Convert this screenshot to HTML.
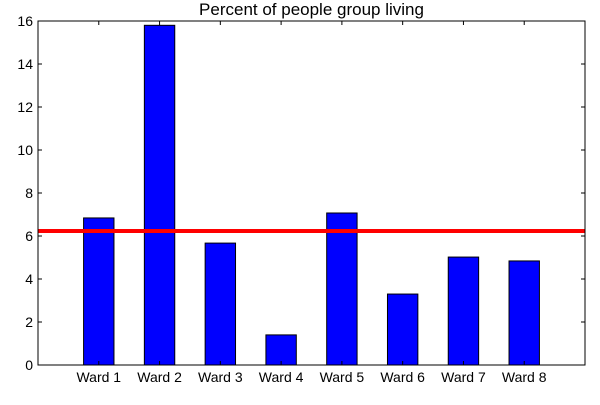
<!DOCTYPE html>
<html><head><meta charset="utf-8"><style>
body{margin:0;background:#fff;font-family:"Liberation Sans",sans-serif;}
svg text{font-family:"Liberation Sans",sans-serif;}
</style></head><body>
<svg id="chart" width="600" height="400"></svg>
<script>
const categories=["Ward 1","Ward 2","Ward 3","Ward 4","Ward 5","Ward 6","Ward 7","Ward 8"];
const values=[6.84,15.8,5.67,1.40,7.07,3.30,5.02,4.84];
const meanValue=6.23;
const yTicks=[0,2,4,6,8,10,12,14,16];
const titleText="Percent of people group living";

const NS="http://www.w3.org/2000/svg";
const svg=document.getElementById('chart');
const L=38,R=585,T=21,B=365;
const xs=i=>L+(i+1)/9*(R-L);
const ys=v=>B-v/16*(B-T);
function mk(tag,attrs,parent){const e=document.createElementNS(NS,tag);for(const k in attrs)e.setAttribute(k,attrs[k]);(parent||svg).appendChild(e);return e;}

const title=mk('text',{x:(L+R)/2,y:15,'text-anchor':'middle','font-size':17});
title.textContent=titleText;



const bw=0.5/9*(R-L);
values.forEach((v,i)=>{
  const r=mk('rect',{x:xs(i)-bw/2,y:ys(v),width:bw,height:B-ys(v),fill:'#0000ff',stroke:'#000','stroke-width':1});
  
  
  mk('line',{x1:xs(i),x2:xs(i),y1:B,y2:B-4,stroke:'#000'});
  mk('line',{x1:xs(i),x2:xs(i),y1:T,y2:T+4,stroke:'#000'});
  const lb=mk('text',{x:xs(i),y:B+17,'text-anchor':'middle','font-size':14});
  lb.textContent=categories[i];
  
  
});
yTicks.forEach(v=>{
  mk('line',{x1:L,x2:L+4,y1:ys(v),y2:ys(v),stroke:'#000'});
  mk('line',{x1:R,x2:R-4,y1:ys(v),y2:ys(v),stroke:'#000'});
  const lb=mk('text',{x:L-5,y:ys(v)+5,'text-anchor':'end','font-size':14});
  lb.textContent=v;
  
  
});
const ml=mk('line',{x1:L,x2:R,y1:ys(meanValue),y2:ys(meanValue),stroke:'#ff0000','stroke-width':4});


const fr=mk('rect',{x:L,y:T,width:R-L,height:B-T,fill:'none',stroke:'#000','stroke-width':1});


</script>
</body></html>
